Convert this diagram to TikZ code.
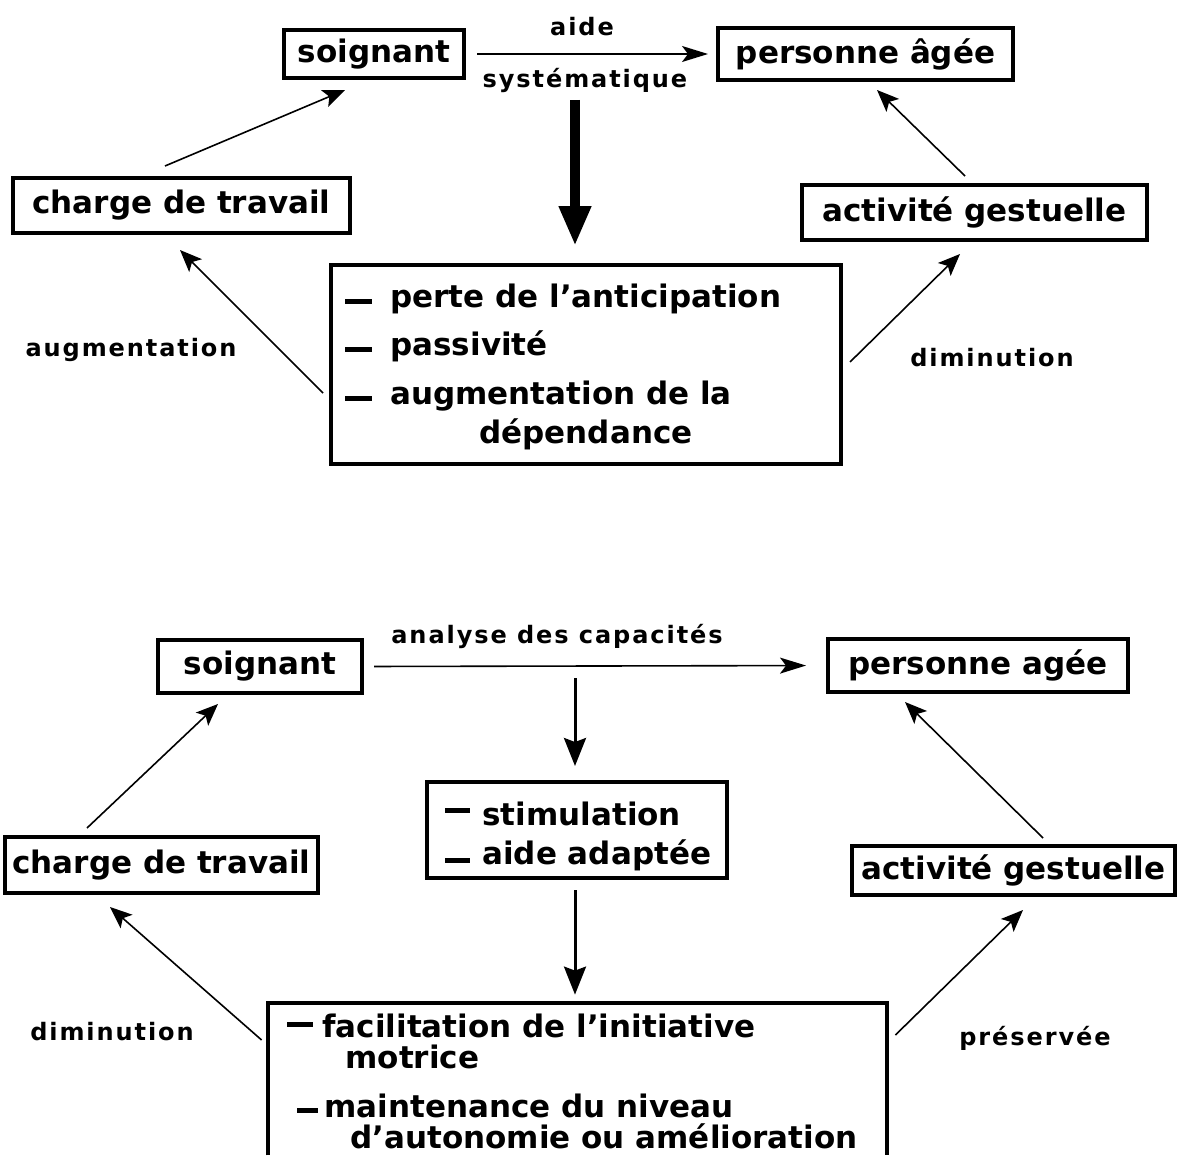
\documentclass[tikz,border=0pt]{standalone}
\usepackage{fontspec}
\setmainfont{DejaVu Sans}
\newfontfamily\labfont{DejaVu Sans}[LetterSpace=8]
\usetikzlibrary{arrows.meta,calc}
\newcommand\mainsz{\fontsize{15.5pt}{18pt}\selectfont\bfseries}
\newcommand\labsz{\labfont\fontsize{12pt}{14pt}\selectfont\bfseries}
\newcommand\mydash[3]{\rule[#1]{#2}{2.6pt}\hspace{#3}}
\begin{document}
\begin{tikzpicture}[x=0.5pt,y=-0.5pt,
  box/.style={draw, line width=2pt, inner sep=0pt, font=\mainsz},
  frame/.style={draw, line width=2pt, inner sep=0pt},
  txt/.style={inner sep=0pt, anchor=base west, font=\mainsz},
  lab/.style={inner sep=0pt, font=\labsz},
  conn/.style={line width=0.8pt, -{Stealth[length=11pt,width=9pt,inset=2.5pt]}},
  hconn/.style={line width=0.8pt, -{Stealth[length=13pt,width=8pt,inset=3pt]}},
  vconn/.style={line width=1.5pt, -{Stealth[length=14pt,width=11pt,inset=2pt]}},
  thick/.style={line width=5pt, -{Triangle[length=20pt,width=15pt]}}]
\useasboundingbox (0,0) rectangle (1181,1155);

% ---------------- top diagram ----------------
\node[box, minimum width=90pt, minimum height=24pt] (A1) at (374,54) {soignant};
\node[box, minimum width=147.5pt, minimum height=26pt] (B1) at (865.5,54) {personne âgée};
\node[box, minimum width=168.5pt, minimum height=27.5pt] (C1) at (181.5,205.5) {charge de travail};
\node[box, minimum width=172.5pt, minimum height=27.5pt] (D1) at (974.5,212.5) {activité gestuelle};
\node[frame, minimum width=255pt, minimum height=99.5pt] (E1) at (586,364.5) {};
\node[txt] (e1a) at (345,307) {\mydash{1.6pt}{13.5pt}{9pt}perte de l’anticipation};
\node[txt] (e1b) at (345,355) {\mydash{1.6pt}{13.5pt}{9pt}passivité};
\node[txt] (e1c) at (345,404) {\mydash{1.6pt}{13.5pt}{9pt}augmentation de la};
\node[txt] (e1d) at (479,443) {dépendance};

\node[lab] (laide) at (582,27) {aide};
\node[lab] (lsyst) at (585,80) {systématique};
\node[lab] (laug) at (131,350) {augmentation};
\node[lab] (ldim1) at (992,358) {diminution};

\coordinate (k1) at (575,100);
\draw[hconn, shorten <=5.5pt, shorten >=4pt] (A1.east) -- (B1.west);
\draw[thick] (k1) -- ([xshift=-5.5pt,yshift=8.5pt]E1.north);
\draw[conn] ([xshift=-8.25pt,yshift=5pt]C1.north) -- ([xshift=-14.5pt,yshift=-5pt]A1.south);
\draw[conn] ([xshift=-4.75pt,yshift=3.5pt]D1.north) -- ([xshift=5.75pt,yshift=-4pt]B1.south);
\draw[conn] ([xshift=-3pt,yshift=-14.25pt]E1.west) -- ([xshift=-0.75pt,yshift=-7.5pt]C1.south);
\draw[conn] ([xshift=3.5pt,yshift=1.25pt]E1.east) -- ([xshift=-7.25pt,yshift=-6pt]D1.south);

% ---------------- bottom diagram ----------------
\node[box, minimum width=102pt, minimum height=26.5pt] (A2) at (260,666.5) {soignant};
\node[box, minimum width=150pt, minimum height=26.5pt] (B2) at (978,665.5) {personne agée};
\node[box, minimum width=156.5pt, minimum height=28pt] (C2) at (161.5,865) {charge de travail};
\node[box, minimum width=161.5pt, minimum height=24.5pt] (D2) at (1013.5,870.5) {activité gestuelle};
\node[frame, minimum width=150pt, minimum height=48pt] (E2) at (577,830) {};
\node[txt] (e2a) at (445,825) {\mydash{6pt}{12.5pt}{6pt}stimulation};
\node[txt] (e2b) at (445,864) {\mydash{0.5pt}{12.5pt}{6pt}aide adaptée};
\node[inner sep=0pt, minimum width=309.5pt, minimum height=76pt] (F2) at (577.5,1079) {};
\draw[line width=2pt] (F2.south west) -- (F2.north west) -- (F2.north east) -- (F2.south east);
\node[txt] (f2a) at (287,1037) {\mydash{5pt}{13pt}{4.5pt}facilitation de l’initiative};
\node[txt] (f2b) at (345,1068) {motrice};
\node[txt] (f2c) at (297,1117) {\mydash{2pt}{10.5pt}{3pt}maintenance du niveau};
\node[txt] (f2d) at (350,1148) {d’autonomie ou amélioration};

\node[lab] (lana) at (557,636) {analyse des capacités};
\node[lab] (ldim2) at (112,1032) {diminution};
\node[lab] (lpres) at (1035,1038) {préservée};

\coordinate (k2) at (575,678);
\draw[hconn, shorten <=5pt, shorten >=10pt] (A2.east) -- (B2.west);
\draw[vconn] (k2) -- ([xshift=-1pt,yshift=7pt]E2.north);
\draw[vconn] ([xshift=-1pt,yshift=-5pt]E2.south) -- ([xshift=-1.25pt,yshift=4pt]F2.north);
\draw[conn] ([xshift=-37.25pt,yshift=3.5pt]C2.north) -- ([xshift=-21pt,yshift=-4.5pt]A2.south);
\draw[conn] ([xshift=14.75pt,yshift=3pt]D2.north) -- ([xshift=-36.5pt,yshift=-4pt]B2.south);
\draw[conn] ([xshift=-3pt,yshift=19.5pt]F2.west) -- ([xshift=-25.75pt,yshift=-6pt]C2.south);
\draw[conn] ([xshift=4pt,yshift=22pt]F2.east) -- ([xshift=4.75pt,yshift=-6.5pt]D2.south);
\end{tikzpicture}
\end{document}
